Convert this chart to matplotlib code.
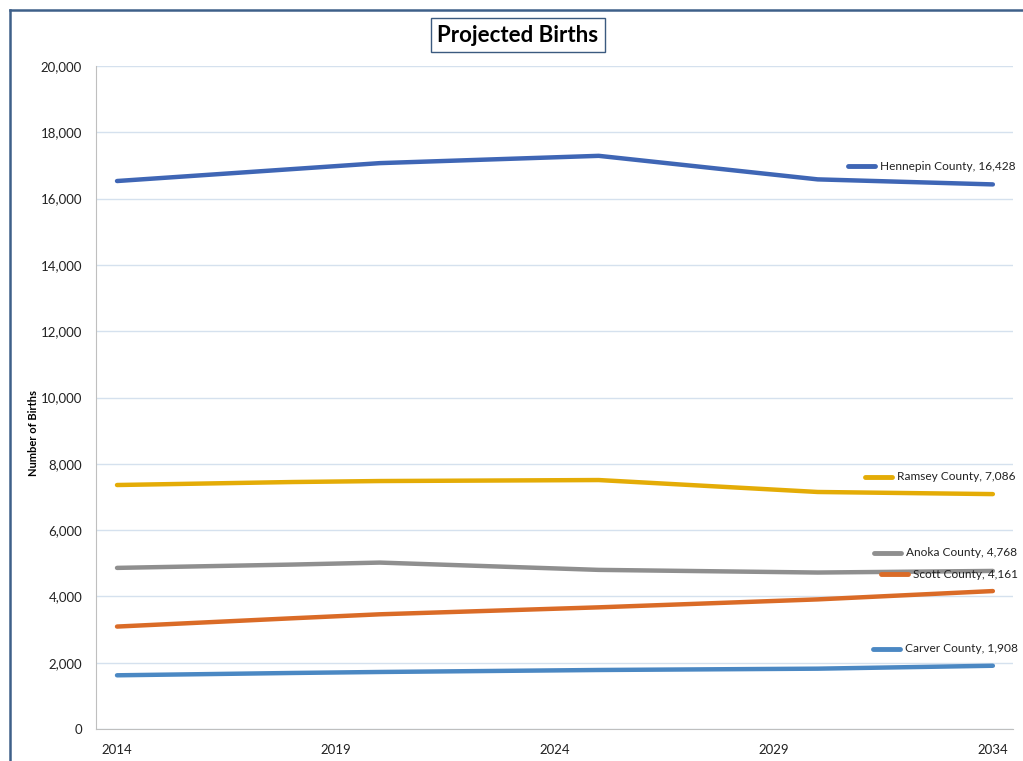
import numpy as np
import matplotlib.pyplot as plt
from matplotlib.lines import Line2D
from matplotlib.ticker import FuncFormatter

plt.rcParams['font.family'] = ['Lato', 'DejaVu Sans']

# data
years = [2014, 2018, 2020, 2025, 2030, 2034]
hennepin = [16530, 16890, 17070, 17290, 16580, 16428]
ramsey = [7360, 7450, 7480, 7510, 7150, 7086]
anoka = [4860, 4960, 5020, 4800, 4720, 4768]
scott = [3090, 3340, 3460, 3670, 3910, 4161]
carver = [1620, 1690, 1720, 1780, 1820, 1908]

names = ['Hennepin County', 'Ramsey County', 'Anoka County', 'Scott County', 'Carver County']
series = [hennepin, ramsey, anoka, scott, carver]
colors = ['#3F66B5', '#E4AC06', '#8F8F8F', '#DA6B27', '#4B88C3']
# label anchor (pixel x of line start, pixel y) for the in-plot labels
label_pos = [(848, 166), (865, 477), (874, 553), (881, 574), (873, 649)]

W, H = 1023, 761
fig = plt.figure(figsize=(W / 100, H / 100), dpi=100)
ax = fig.add_axes([96 / W, 1 - 729 / H, (1013 - 96) / W, (729 - 66) / H])

for vals, col in zip(series, colors):
    ax.plot(years, vals, color=col, lw=3.2, solid_capstyle='round')

ax.set_xlim(2013.52, 2034.46)
ax.set_ylim(0, 20000)
ax.set_xticks([2014, 2019, 2024, 2029, 2034])
ax.set_yticks(np.arange(0, 20001, 2000))
ax.yaxis.set_major_formatter(FuncFormatter(lambda v, p: f'{int(v):,}'))
ax.tick_params(length=0, labelsize=9.5, colors='#222222')
ax.tick_params(axis='x', pad=11)
ax.tick_params(axis='y', pad=10)
ax.grid(axis='y', color='#D5E1EE', lw=1)
ax.set_axisbelow(True)
for s in ['top', 'right']:
    ax.spines[s].set_visible(False)
for s in ['left', 'bottom']:
    ax.spines[s].set_color('#BFBFBF')
ax.set_ylabel('Number of Births', fontsize=8, fontweight='bold')
ax.yaxis.set_label_coords(-0.062, 0.446)

# labels at the line ends
for name, vals, col, (px, py) in zip(names, series, colors, label_pos):
    fy = 1 - py / H
    fig.add_artist(Line2D([px / W, (px + 27) / W], [fy, fy], color=col, lw=3.5,
                          solid_capstyle='round', transform=fig.transFigure))
    fig.text((px + 32) / W, fy, f'{name}, {vals[-1]:,}', fontsize=8.6,
             va='center', ha='left', color='#222222')

# title
fig.text(518 / W, 1 - 35 / H, 'Projected Births', fontsize=16, fontweight='bold',
         ha='center', va='center',
         bbox=dict(boxstyle='square,pad=0.3', fc='white', ec='#3B5A7F', lw=1))

# outer frame
frame_col = '#3E6089'
fig.add_artist(Line2D([10 / W, 1], [1 - 10 / H, 1 - 10 / H], color=frame_col, lw=1.8,
                      transform=fig.transFigure))
fig.add_artist(Line2D([10 / W, 10 / W], [0, 1 - 10 / H], color=frame_col, lw=1.8,
                      transform=fig.transFigure))

fig.savefig('out.png', dpi=100)
